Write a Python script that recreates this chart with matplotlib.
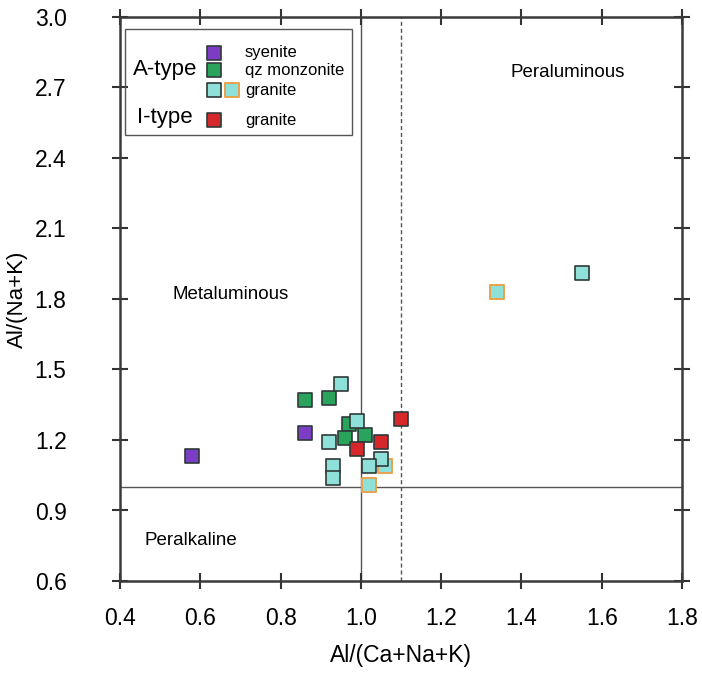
import matplotlib
matplotlib.use("Agg")
import matplotlib.pyplot as plt
from matplotlib.patches import Rectangle

plt.rcParams['font.family'] = ['Liberation Sans', 'DejaVu Sans']

# A/CNK vs A/NK data
syenite_x = [0.58, 0.86]
syenite_y = [1.13, 1.23]
qzm_x = [0.86, 0.92, 0.97, 0.96, 1.01]
qzm_y = [1.37, 1.38, 1.27, 1.21, 1.22]
granite_x = [0.95, 0.99, 0.92, 0.93, 0.93, 1.05, 1.02, 1.55]
granite_y = [1.44, 1.28, 1.19, 1.09, 1.04, 1.12, 1.09, 1.91]
granite2_x = [1.34, 1.06, 1.02]   # orange-rimmed granite
granite2_y = [1.83, 1.09, 1.01]
itype_x = [1.10, 1.05, 0.99]
itype_y = [1.29, 1.19, 1.16]

xticks = [0.4, 0.6, 0.8, 1.0, 1.2, 1.4, 1.6, 1.8]
yticks = [0.6, 0.9, 1.2, 1.5, 1.8, 2.1, 2.4, 2.7, 3.0]

c_purple = '#7d3cc4'
c_green = '#2aa35c'
c_cyan = '#90e0da'
c_red = '#d6282a'
c_orange = '#e9a24e'
edge = '#2e3a3a'

fig = plt.figure(figsize=(7.02, 6.75), dpi=100)
ax = fig.add_axes([120/702, 1-581/675, 562/702, 564/675])

ax.set_xlim(0.4, 1.8)
ax.set_ylim(0.6, 3.0)

# boundary lines
ax.axvline(1.0, color='#555555', lw=1.0, zorder=1)
ax.axvline(1.1, color='#555555', lw=1.0, ls=(0, (3, 2)), zorder=1)
ax.axhline(1.0, color='#555555', lw=1.0, zorder=1)

ms = 88
ax.scatter(granite2_x, granite2_y, marker='s', s=ms, c=c_cyan, edgecolors=c_orange, linewidths=1.4, zorder=3)
ax.scatter(syenite_x, syenite_y, marker='s', s=ms, c=c_purple, edgecolors=edge, linewidths=1.2, zorder=3)
ax.scatter(qzm_x, qzm_y, marker='s', s=ms, c=c_green, edgecolors=edge, linewidths=1.2, zorder=3)
ax.scatter(granite_x, granite_y, marker='s', s=ms, c=c_cyan, edgecolors=edge, linewidths=1.2, zorder=3)
ax.scatter(itype_x, itype_y, marker='s', s=ms, c=c_red, edgecolors=edge, linewidths=1.2, zorder=3)

# field names
ax.text(1.516, 2.765, 'Peraluminous', fontsize=13.5, ha='center', va='center')
ax.text(0.676, 1.82, 'Metaluminous', fontsize=13.5, ha='center', va='center')
ax.text(0.577, 0.774, 'Peralkaline', fontsize=13.5, ha='center', va='center')

# hand-made legend box
tr = ax.transAxes
ax.add_patch(Rectangle((0.009, 0.791), 0.404, 0.187, transform=tr, fill=False,
                       edgecolor='#555555', lw=1.0, zorder=4))
ax.text(0.080, 0.907, 'A-type', transform=tr, fontsize=16, ha='center', va='center')
ax.text(0.080, 0.821, 'I-type', transform=tr, fontsize=16, ha='center', va='center')
leg_rows = [
    (0.937, c_purple, edge, 'syenite'),
    (0.906, c_green, edge, 'qz monzonite'),
    (0.870, c_cyan, edge, 'granite'),
    (0.817, c_red, edge, 'granite'),
]
for yy, fc, ec, lab in leg_rows:
    ax.scatter([0.167], [yy], transform=tr, marker='s', s=ms, c=fc, edgecolors=ec, linewidths=1.2, zorder=5)
    ax.text(0.222, yy, lab, transform=tr, fontsize=12, ha='left', va='center')
ax.scatter([0.199], [0.870], transform=tr, marker='s', s=ms, c=c_cyan, edgecolors=c_orange, linewidths=1.4, zorder=5)

ax.set_xticks(xticks)
ax.set_yticks(yticks)
ax.set_xticklabels([f'{v:.1f}' for v in xticks])
ax.set_yticklabels([f'{v:.1f}' for v in yticks])
ax.tick_params(direction='inout', length=11, width=1.5, color='#333333',
               top=True, right=True, labelsize=16.5)
ax.tick_params(axis='x', pad=13)
ax.tick_params(axis='y', pad=33)
for sp in ax.spines.values():
    sp.set_linewidth(1.8)
    sp.set_color('#3a3a3a')

ax.set_xlabel('Al/(Ca+Na+K)', fontsize=16.5)
ax.set_ylabel('Al/(Na+K)', fontsize=16)
ax.xaxis.set_label_coords(0.5, -0.112)
ax.yaxis.set_label_coords(-0.163, 0.5)

plt.savefig('out.png', dpi=100)
